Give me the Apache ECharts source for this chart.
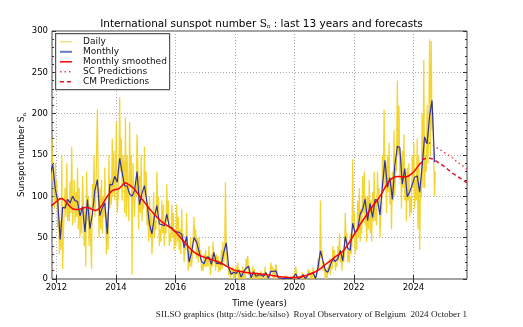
<!DOCTYPE html>
<html><head><meta charset="utf-8">
<script src="https://cdn.jsdelivr.net/npm/echarts@6/dist/echarts.min.js"></script>
<style>html,body{margin:0;padding:0;background:#fff}#c{width:523px;height:327px}</style>
</head><body><div id="c"></div>
<script>
// first month of the monthly / smoothed / daily series
const startYear = 2011, startMonth = 10;

// Monthly mean sunspot number, Oct 2011 .. Sep 2024
const monthly = [
  125.7, 139.1, 109.3,
  94.4, 47.8, 86.6, 85.9, 96.5, 92.0, 100.1, 94.8, 93.7, 76.5, 87.6, 56.8,
  96.1, 60.9, 78.3, 107.3, 120.2, 76.7, 86.2, 91.8, 54.5, 114.4, 113.9, 124.2,
  117.0, 146.1, 128.7, 112.5, 112.5, 102.9, 100.2, 106.9, 130.0, 90.0, 103.6, 112.9,
  93.0, 66.7, 54.5, 75.3, 88.8, 66.5, 65.8, 64.4, 78.6, 63.6, 62.2, 58.0,
  57.0, 56.4, 54.1, 37.9, 51.5, 20.5, 32.4, 50.2, 44.6, 33.4, 21.4, 18.5,
  26.1, 26.4, 17.7, 32.3, 18.9, 19.2, 17.8, 32.6, 43.7, 13.2, 5.7, 8.2,
  6.8, 10.7, 2.5, 8.9, 13.1, 15.6, 1.6, 8.7, 3.3, 4.9, 4.9, 3.1,
  7.7, 0.8, 9.4, 9.1, 9.9, 1.2, 0.9, 0.5, 1.1, 0.4, 0.5, 1.5,
  6.2, 0.2, 1.5, 5.2, 0.2, 5.8, 6.1, 7.5, 0.6, 14.4, 34.0, 21.8,
  10.4, 8.2, 17.2, 24.5, 21.2, 25.0, 34.6, 22.0, 51.3, 37.4, 34.8, 67.5,
  55.3, 59.9, 78.5, 84.1, 96.5, 70.5, 91.4, 74.6, 96.0, 95.5, 77.6, 113.1,
  143.6, 110.9, 122.6, 96.4, 137.4, 160.5, 159.1, 114.8, 133.6, 99.4, 105.4, 114.2,
  123.0, 124.7, 104.9, 136.5, 172.1, 163.5, 196.8, 216.0, 141.4
];

// 13-month smoothed, Oct 2011 .. Apr 2024
const smoothed = [
  88, 90, 92.5,
  95, 97.5, 97, 94.5, 91, 87.5, 85, 84, 84, 84.5, 85.5, 86.5,
  86.5, 85.5, 84, 83, 83.5, 86, 90, 95, 100, 104, 107, 108,
  108.5, 110, 113, 116.4, 115.5, 113.5, 111.5, 108.5, 104.5, 100.5, 96.5, 93,
  89, 85, 81.5, 78, 75, 72, 69, 67, 65, 63, 61, 58.5,
  55.5, 52, 48.5, 45, 41.5, 38, 35, 32.5, 30.5, 29, 27.5, 26.5,
  25.5, 24.5, 23.5, 22.5, 21.5, 20.5, 19, 17.5, 15.5, 14, 12.5, 11,
  10, 9.5, 9, 8.5, 8, 7.5, 7, 6.8, 6.6, 6.3, 6, 5.8,
  5.5, 5, 4.5, 4, 3.5, 3, 2.6, 2.3, 2.2, 2, 1.9, 1.8,
  1.9, 2.2, 2.6, 3.2, 4, 5, 6.2, 7.6, 9, 10.5, 12.5, 15,
  17.5, 20, 22, 24.5, 27, 29, 31, 33.5, 37, 41.5, 46, 51,
  56, 61, 66, 70.5, 75, 79, 83.5, 88, 92, 96, 100, 105,
  110.5, 115.5, 119.5, 122, 123.5, 124, 124, 123.5, 123.5, 124, 125.5, 128,
  131, 135, 139, 141.5
];

// Daily values, three readings per month, Oct 2011 .. Sep 2024
const daily = [
  150,95,132, 170,118,128, 85,140,92,
  120,62,98, 30,70,35, 150,12,60, 60,110,75, 140,70,95, 70,118,80, 160,65,90, 120,68,105, 75,135,60, 110,50,80, 55,125,95, 40,85,15,
  130,70,100, 40,90,45, 12,115,90, 150,75,95, 95,205,120, 50,110,60, 120,55,100, 75,135,70, 30,80,35, 150,85,120, 90,170,100, 155,95,130,
  190,80,95, 125,220,130, 170,95,150, 140,80,195, 75,150,100, 70,190,110, 150,5,140, 140,75,110, 100,175,140, 60,125,80, 150,70,95, 85,160,100,
  130,65,90, 45,100,50, 80,30,50, 105,50,70, 60,130,85, 100,40,60, 45,95,55, 90,40,65, 55,115,70, 95,40,55, 45,90,50, 80,35,60,
  40,90,45, 75,35,60, 30,85,45, 55,20,40, 35,80,40, 10,35,15, 50,15,30, 30,75,45, 60,25,50, 20,50,30, 35,10,18, 10,30,15,
  35,15,28, 15,40,22, 5,30,15, 45,20,30, 10,30,15, 28,8,20, 10,35,12, 45,20,30, 117,30,15, 20,5,12, 0,12,5, 15,0,10,
  0,15,5, 20,0,12, 0,8,0, 15,0,12, 0,25,12, 28,5,14, 0,5,0, 15,0,12, 0,8,0, 8,0,7, 0,10,4, 6,0,4,
  15,0,8, 0,3,0, 0,20,8, 15,0,12, 0,18,12, 0,4,0, 3,0,0, 0,2,0, 0,4,0, 0,1,0, 0,2,0, 0,4,0,
  0,15,8, 0,1,0, 0,4,0, 8,0,6, 0,1,0, 0,12,5, 10,0,8, 0,14,8, 0,2,0, 5,25,12, 15,95,25, 35,10,20,
  20,0,12, 0,15,10, 25,5,20, 12,40,20, 35,10,20, 15,40,22, 55,20,30, 10,35,20, 30,80,45, 55,20,35, 20,55,30, 40,145,60,
  80,30,55, 35,95,50, 110,45,85, 55,125,80, 130,65,100, 45,100,60, 120,55,95, 45,105,70, 130,70,95, 65,130,90, 110,50,75, 80,150,110,
  205,110,140, 80,150,105, 165,90,120, 60,130,95, 180,100,135, 130,240,150, 210,120,150, 85,155,110, 175,95,130, 70,135,95, 140,75,100, 80,150,110,
  165,85,120, 95,170,60, 150,35,110, 100,200,110, 265,110,150, 130,210,140, 175,290,150, 288,180,200, 200,100,130
];

// Predictions (monthly), SC from May 2024, CM from Apr 2024
const scStart = [2024, 5];
const scValues = [166, 165.5, 164.5, 162.5, 160.5, 158.5, 157, 155, 153, 151, 149, 147, 144.5, 142, 140, 137.5, 135.5, 133, 130.5];
const cmStart = [2024, 4];
const cmValues = [144.5, 145.5, 146, 146, 145.5, 144, 142, 140, 138, 136, 133.5, 131, 128.5, 126.5, 124.5, 122.5, 120.5, 118.5, 116.5];

const xTicks = [2012, 2014, 2016, 2018, 2020, 2022, 2024];
const yMax = 300, yStep = 50;
const legendNames = ['Daily', 'Monthly', 'Monthly smoothed', 'SC Predictions', 'CM Predictions'];

const mDate = (y, m, i) => y + (m - 1 + i + 0.5) / 12;
const monthlyData = monthly.map((v, i) => [mDate(startYear, startMonth, i), v]);
const smoothedData = smoothed.map((v, i) => [mDate(startYear, startMonth, i), v]);
const dailyData = daily.map((v, j) => [startYear + (startMonth - 1 + Math.floor(j / 3) + ((j % 3) + 0.5) / 3) / 12, v]);
const scData = scValues.map((v, i) => [mDate(scStart[0], scStart[1], i), v]);
const cmData = cmValues.map((v, i) => [mDate(cmStart[0], cmStart[1], i), v]);

const FONT = 'DejaVu Sans';
const C = {daily: '#f2cf1a', monthly: '#33339e', smooth: '#ff0000', sc: '#e8404a', cm: '#dd1030'};
const legendStyles = [
  {stroke: '#e8d040', lineWidth: 1},
  {stroke: '#6a78d0', lineWidth: 2},
  {stroke: C.smooth, lineWidth: 1.5},
  {stroke: C.sc, lineWidth: 1.5, lineDash: [1.5, 3]},
  {stroke: C.cm, lineWidth: 1.5, lineDash: [4, 3]}
];

const chart = echarts.init(document.getElementById('c'), null, {renderer: 'canvas'});
const xBase = {
  type: 'value', min: 2011.85, max: 2025.8,
  axisLine: {show: false},
  axisTick: {show: true, inside: true, length: 4, customValues: xTicks, lineStyle: {color: '#333'}},
  splitLine: {show: false}
};
const yBase = {
  type: 'value', min: 0, max: yMax, interval: yStep,
  axisLine: {show: false},
  axisTick: {show: true, inside: true, length: 4, lineStyle: {color: '#333'}},
  minorTick: {show: true, splitNumber: 5, length: 2, lineStyle: {color: '#333'}},
  splitLine: {show: false}
};

// legend drawn as graphic elements
const legendGraphic = [{
  type: 'rect', left: 55, top: 33, z: 100,
  shape: {width: 114, height: 56},
  style: {fill: '#fff', stroke: '#555', lineWidth: 1.2}
}];
legendNames.forEach((name, i) => {
  const y = 41.8 + i * 10;
  legendGraphic.push({type: 'line', z: 101, shape: {x1: 60, y1: y, x2: 72, y2: y}, style: legendStyles[i]});
  legendGraphic.push({type: 'text', z: 101, x: 83, y: y,
    style: {text: name, font: '9px "DejaVu Sans"', fill: '#111', textVerticalAlign: 'middle'}});
});

chart.setOption({
  animation: false,
  backgroundColor: '#fff',
  title: {
    text: 'International sunspot number {S|S}{n|n} : last 13 years and forecasts',
    left: 'center', top: 13,
    textStyle: {
      fontFamily: FONT, fontSize: 10.5, fontWeight: 'normal', color: '#000',
      rich: {
        S: {fontFamily: 'DejaVu Serif', fontSize: 10.5, color: '#000'},
        n: {fontFamily: 'DejaVu Serif', fontSize: 5.5, color: '#000', padding: [6, 0, 0, 0]}
      }
    }
  },
  grid: {left: 52, right: 56, top: 31, bottom: 48, show: true, borderColor: '#444', borderWidth: 1},
  xAxis: [
    Object.assign({}, xBase, {
      position: 'bottom',
      name: 'Time (years)', nameLocation: 'middle', nameGap: 20, nameMoveOverlap: false,
      nameTextStyle: {fontFamily: FONT, fontSize: 8.7, color: '#000'},
      axisLabel: {show: true, customValues: xTicks, formatter: v => String(v), margin: 4, fontFamily: FONT, fontSize: 8.5, color: '#000'},
      splitLine: {show: true, lineStyle: {color: '#aaa', type: [1, 2], width: 1}}
    }),
    Object.assign({}, xBase, {position: 'top', axisLabel: {show: false}})
  ],
  yAxis: [
    Object.assign({}, yBase, {
      position: 'left',
      name: 'Sunspot number {S|S}{n|n}', nameLocation: 'middle', nameGap: 25, nameMoveOverlap: false,
      nameTextStyle: {fontFamily: FONT, fontSize: 8.7, color: '#000',
        rich: {S: {fontFamily: 'DejaVu Serif', fontSize: 8.7}, n: {fontFamily: 'DejaVu Serif', fontSize: 5, padding: [5, 0, 0, 0]}}},
      axisLabel: {show: true, margin: 4, fontFamily: FONT, fontSize: 8.5, color: '#000'},
      splitLine: {show: true, lineStyle: {color: '#aaa', type: [1, 2], width: 1}}
    }),
    Object.assign({}, yBase, {position: 'right', axisLabel: {show: false}})
  ],
  series: [
    {name: 'Daily', type: 'line', data: dailyData, symbol: 'none', clip: true,
     lineStyle: {color: C.daily, width: 1.25, opacity: 0.9}},
    {name: 'Monthly', type: 'line', data: monthlyData, symbol: 'none', clip: true,
     lineStyle: {color: C.monthly, width: 1.2}},
    {name: 'Monthly smoothed', type: 'line', data: smoothedData, symbol: 'none', clip: true,
     lineStyle: {color: C.smooth, width: 1.5}},
    {name: 'SC Predictions', type: 'line', data: scData, symbol: 'none', clip: true,
     lineStyle: {color: C.sc, width: 1.5, type: [1.5, 3]}},
    {name: 'CM Predictions', type: 'line', data: cmData, symbol: 'none', clip: true,
     lineStyle: {color: C.cm, width: 1.5, type: [4, 3]}}
  ],
  graphic: legendGraphic.concat([{
    type: 'text', right: 56, top: 310,
    style: {text: 'SILSO graphics (http://sidc.be/silso)  Royal Observatory of Belgium  2024 October 1',
      font: '9.1px "Liberation Serif"', fill: '#222'}
  }])
});
</script></body></html>
